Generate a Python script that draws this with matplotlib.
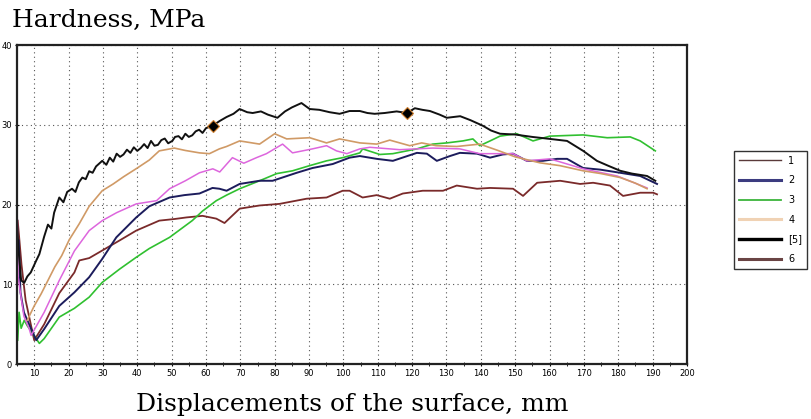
import matplotlib
matplotlib.use("Agg")
import matplotlib.pyplot as plt
from matplotlib.lines import Line2D

# series 5 (black, top curve)
x5 = [5.0, 5.5, 6.2, 7.1, 8.0, 9.0, 10.6, 11.5, 12.9, 14.0, 15.0, 15.8, 17.3, 18.5, 19.6, 21, 22, 23,
      24, 25, 26, 27, 28, 29.8, 31, 32, 33, 34, 35, 36, 37, 38, 39, 40, 41, 42, 43, 44, 45, 46, 47,
      48, 49, 50.2, 51, 52, 53, 54, 55, 56, 57, 58, 59, 60, 61.9, 64, 66, 68, 69.8, 72, 73.6, 76,
      78, 80.8, 83, 85, 87.8, 90.2, 93, 96, 98.9, 101.8, 104.8, 107, 109.1, 112, 115.5, 118.5,
      120.8, 123, 125.2, 128, 130.1, 134, 137, 140.6, 143, 145.6, 150, 155, 160.1, 165.1, 169.8,
      173.8, 177, 180.6, 184, 188.4, 190.8]
y5 = [17.5, 14.0, 10.5, 10.2, 11.0, 11.5, 13.0, 13.8, 16.0, 17.5, 17.0, 19.0, 20.9, 20.3, 21.6,
      22.0, 21.6, 22.8, 23.4, 23.2, 24.2, 24.0, 24.8, 25.5, 25.0, 25.9, 25.4, 26.4, 26.0, 26.3,
      26.9, 26.5, 27.2, 26.75, 27.1, 27.6, 27.1, 28.0, 27.4, 27.5, 28.1, 28.3, 27.7, 28.0, 28.5,
      28.6, 28.2, 28.9, 28.5, 28.7, 29.2, 29.4, 29.0, 29.6, 29.9, 30.5, 31.0, 31.4, 32.0, 31.6,
      31.5, 31.7, 31.3, 30.9, 31.7, 32.2, 32.75, 32.0, 31.9, 31.6, 31.4, 31.75, 31.75, 31.5, 31.4,
      31.5, 31.7, 31.5, 32.1, 31.9, 31.75, 31.3, 30.9, 31.1, 30.6, 29.9, 29.3, 28.9, 28.8, 28.5,
      28.25, 28.0, 26.75, 25.5, 24.9, 24.25, 23.9, 23.6, 23.0]
x5_marks = [61.9, 118.5]
y5_marks = [29.9, 31.5]

# series 4 (tan)
x4 = [8.0, 9.1, 10, 12, 14, 16, 18, 20.2, 23.1, 26, 29.8, 33, 36, 40, 43.5, 46.4, 50.8, 54, 58.1, 61,
      63.9, 66, 69.8, 75.6, 80, 83.5, 90.2, 95.1, 98.9, 104.8, 109.7, 113.5, 119.3, 122.8, 127,
      133, 139.7, 145, 150, 157.2, 163, 169.8, 175, 180.6, 185, 188.4]
y4 = [5.5, 6.5, 7.3, 8.8, 10.5, 12.2, 13.6, 15.6, 17.6, 19.8, 21.75, 22.6, 23.5, 24.6, 25.6, 26.75,
      27.1, 26.8, 26.5, 26.4, 27.0, 27.3, 28.0, 27.6, 28.9, 28.25, 28.4, 27.75, 28.25, 27.75,
      27.6, 28.1, 27.4, 27.75, 27.4, 27.3, 27.6, 26.8, 26.0, 25.25, 24.9, 24.25, 23.9, 23.4,
      22.7, 22.0]

# series 1 (magenta)
x1 = [5.0, 5.3, 5.8, 7.0, 8.5, 9.1, 12.9, 17.3, 21.7, 26, 29.8, 34, 39.7, 45.6, 49.4, 54, 58.1, 62,
      64, 67.7, 71, 74.7, 77.6, 82.3, 85.2, 91, 95.1, 98, 101, 104.8, 107.7, 116.4, 126, 133.9,
      139.7, 145.6, 149.4, 153.4, 160.1, 169.8, 179.7, 188.4]
y1 = [20.6, 11.0, 9.5, 6.0, 4.5, 3.6, 6.5, 10.5, 14.2, 16.75, 18.0, 19.0, 20.1, 20.5, 22.0, 23.0,
      24.0, 24.5, 24.1, 25.9, 25.2, 25.9, 26.4, 27.6, 26.5, 27.0, 27.4, 26.75, 26.4, 27.0, 27.2,
      26.9, 27.1, 27.0, 26.4, 26.4, 26.4, 25.5, 25.75, 24.5, 23.6, 22.1]

# series 2 (navy)
x2 = [5.5, 6.0, 7.0, 8.5, 10.6, 12.9, 17.3, 21.7, 26, 29.8, 33.9, 39.7, 43.5, 49.4, 53.7, 58.1, 61.9,
      63.9, 66, 69.8, 75.6, 79.4, 86.4, 91, 96.9, 101.8, 104.8, 109.7, 114.4, 121.4, 124.3, 127.2,
      131, 133.9, 138.9, 142.7, 146.4, 149.4, 153.4, 158.1, 162.2, 165.1, 169.8, 174.7, 180.6,
      186.4, 191.3]
y2 = [15.5, 9.0, 6.5, 5.0, 3.0, 4.4, 7.3, 9.0, 10.9, 13.2, 15.9, 18.4, 19.8, 20.9, 21.2, 21.4, 22.1,
      22.0, 21.75, 22.6, 23.0, 23.0, 24.0, 24.6, 25.1, 25.9, 26.1, 25.75, 25.5, 26.5, 26.4, 25.5,
      26.1, 26.5, 26.4, 25.9, 26.3, 26.4, 25.5, 25.5, 25.75, 25.75, 24.6, 24.4, 24.0, 23.6, 22.6]

# series 3 (green)
x3 = [5.2, 5.6, 6.2, 7.1, 8.0, 9.0, 11.5, 12.9, 17.3, 21.7, 26, 29.8, 34.8, 39.7, 43.5, 49.4, 56, 59,
      63, 66, 69.8, 75.6, 80.6, 85.2, 90.2, 95.1, 99.8, 104.8, 105.6, 110.6, 114.4, 121.4, 126,
      130.1, 134.8, 137.7, 139.7, 142.7, 145.6, 150.5, 155.2, 160.1, 169.8, 176.8, 183.5, 186.4,
      190.8]
y3 = [3.0, 6.5, 4.5, 5.5, 4.8, 4.2, 2.6, 3.2, 5.9, 7.0, 8.4, 10.25, 11.9, 13.4, 14.5, 15.9, 18.0,
      19.2, 20.5, 21.2, 22.0, 23.0, 23.9, 24.25, 24.9, 25.5, 25.9, 26.5, 27.0, 26.3, 26.4, 27.0,
      27.6, 27.75, 28.0, 28.25, 27.4, 28.0, 28.6, 28.9, 28.0, 28.6, 28.75, 28.4, 28.5, 28.0, 26.75]

# series 6 (maroon)
x6 = [5.2, 5.6, 6.3, 7.5, 9.0, 10.0, 12.9, 17.3, 21.7, 23.1, 26, 29.8, 34.8, 39.7, 46.4, 50.8, 54.3,
      59, 63, 65.4, 69.8, 75.6, 81.4, 89.3, 95.1, 99.8, 101.8, 105.6, 109.7, 113.5, 117.3, 123.1,
      129, 133, 138.9, 142.7, 149.4, 152.3, 156.4, 163.1, 168.9, 172.7, 177.6, 181.4, 186.4,
      190.2, 191.3]
y6 = [18.0, 16.0, 12.5, 8.0, 5.0, 3.0, 5.0, 8.9, 11.5, 13.0, 13.3, 14.25, 15.5, 16.75, 18.0, 18.2,
      18.4, 18.6, 18.25, 17.7, 19.5, 19.9, 20.1, 20.75, 20.9, 21.75, 21.75, 20.9, 21.2, 20.75,
      21.4, 21.75, 21.75, 22.4, 22.0, 22.1, 22.0, 21.1, 22.75, 23.0, 22.6, 22.75, 22.4, 21.1,
      21.5, 21.5, 21.3]

legend_labels = ["1", "2", "3", "4", "[5]", "6"]
legend_colors = ["#5a3a3a", "#3c3c80", "#3cb43c", "#f0d2b4", "black", "#6a4444"]
legend_widths = [1.0, 2.2, 1.3, 2.2, 2.4, 2.2]

fig = plt.figure(figsize=(8.11, 4.19), dpi=100)
ax = fig.add_axes([0.021, 0.131, 0.826, 0.761])

ax.plot(x6, y6, color="#7a2a2a", lw=1.3)
ax.plot(x3, y3, color="#30c030", lw=1.2)
ax.plot(x2, y2, color="#1c1c5c", lw=1.4)
ax.plot(x1, y1, color="#dd66dd", lw=1.1)
ax.plot(x4, y4, color="#d09a66", lw=1.2)
ax.plot(x5, y5, color="#111111", lw=1.4)
ax.plot(x5_marks, y5_marks, linestyle="none", marker="D", ms=6,
        color="black", markeredgecolor="#d08030", markeredgewidth=0.8)

ax.set_xlim(5, 200)
ax.set_ylim(0, 40)
ax.set_xticks(range(10, 201, 10))
ax.set_xticks(range(5, 201, 5), minor=True)
ax.set_yticks([0, 10, 20, 30, 40])
ax.tick_params(axis="both", labelsize=6, length=3, width=0.8, direction="inout", pad=2)
ax.tick_params(axis="x", which="minor", length=3, direction="inout")
ax.grid(True, which="major", linestyle=(0, (1, 3)), color="#555555", lw=0.8)
for side in ax.spines.values():
    side.set_linewidth(1.6)
    side.set_color("#222222")

fig.text(0.015, 0.935, "Hardness, MPa", family="DejaVu Serif", fontsize=18, ha="left")
fig.text(0.434, 0.02, "Displacements of the surface, mm", family="DejaVu Serif",
         fontsize=18, ha="center")

handles = [Line2D([], [], color=c, lw=w) for c, w in zip(legend_colors, legend_widths)]
leg = fig.legend(handles, legend_labels, loc="upper left", bbox_to_anchor=(0.905, 0.64),
                 fontsize=7, handlelength=4.3, handletextpad=0.8, labelspacing=1.0,
                 borderpad=0.5, borderaxespad=0, fancybox=False, framealpha=1)
leg.get_frame().set_edgecolor("#333333")
leg.get_frame().set_linewidth(1.0)

fig.savefig("out.png", dpi=100)
